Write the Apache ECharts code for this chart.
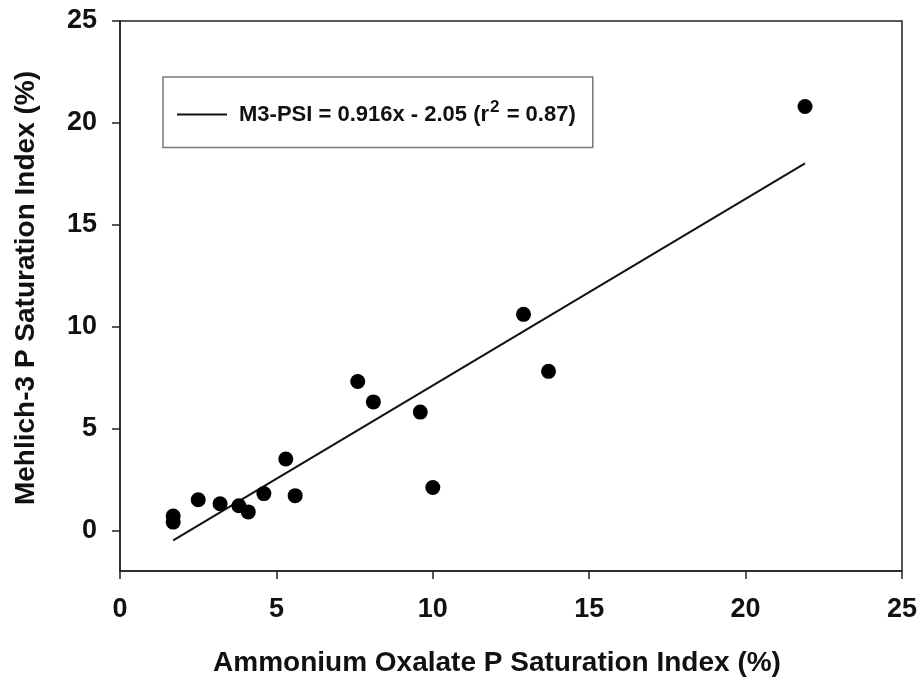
<!DOCTYPE html>
<html>
<head>
<meta charset="utf-8">
<script src="https://cdn.jsdelivr.net/npm/echarts@6/dist/echarts.min.js"></script>
<style>
html,body{margin:0;padding:0;background:#fff;}
#chart{width:921px;height:682px;}
</style>
</head>
<body>
<div id="chart"></div>
<script>
// Data
var oxalatePSI = [21.9, 12.9, 13.7, 7.6, 8.1, 9.6, 10.0, 5.3, 4.6, 5.6, 2.5, 3.2, 3.8, 4.1, 1.7, 1.7];
var mehlichPSI = [20.8, 10.6, 7.8, 7.3, 6.3, 5.8, 2.1, 3.5, 1.8, 1.7, 1.5, 1.3, 1.2, 0.9, 0.7, 0.4];
var fitSlope = 0.916;
var fitIntercept = -2.05;
var fitR2 = 0.87;
var xTicks = [0, 5, 10, 15, 20, 25];
var yTicks = [0, 5, 10, 15, 20, 25];
var xTitle = 'Ammonium Oxalate P Saturation Index (%)';
var yTitle = 'Mehlich-3 P Saturation Index (%)';
var fitName = 'M3-PSI = 0.916x - 2.05 (r2 = 0.87)';

var points = oxalatePSI.map(function (x, i) { return [x, mehlichPSI[i]]; });
var xMin = Math.min.apply(null, oxalatePSI);
var xMax = Math.max.apply(null, oxalatePSI);
var fitLine = [[xMin, fitSlope * xMin + fitIntercept], [xMax, fitSlope * xMax + fitIntercept]];

var FONT = 'Liberation Sans, Arial, sans-serif';
var chart = echarts.init(document.getElementById('chart'), null, {renderer: 'canvas'});
chart.setOption({
  animation: false,
  backgroundColor: '#ffffff',
  grid: {left: 120, right: 19, top: 21, bottom: 111, show: true, borderColor: '#222', borderWidth: 1.5, backgroundColor: 'transparent'},
  legend: {
    data: [{name: fitName, icon: 'rect'}],
    left: 163, top: 77,
    orient: 'horizontal',
    padding: [22, 17, 22, 14],
    borderColor: '#777', borderWidth: 1.5,
    itemWidth: 50, itemHeight: 2,
    formatter: function () {
      return 'M3-PSI = ' + fitSlope + 'x - ' + Math.abs(fitIntercept).toFixed(2) + ' (r{sup|2} = ' + fitR2 + ')';
    },
    textStyle: {
      fontFamily: FONT, fontWeight: 'bold', fontSize: 22, color: '#111',
      padding: [0, 0, 0, 7],
      rich: {
        sup: {fontFamily: FONT, fontWeight: 'bold', fontSize: 17, color: '#111', verticalAlign: 'bottom', padding: [0, 1, 14, 1]}
      }
    }
  },
  xAxis: {
    type: 'value', min: 0, max: 25, interval: 5,
    name: xTitle, nameLocation: 'middle', nameGap: 78,
    nameTextStyle: {fontFamily: FONT, fontWeight: 'bold', fontSize: 28, color: '#111', padding: [0, 28, 0, 0]},
    axisLine: {show: true, onZero: false, lineStyle: {color: '#222', width: 1.5}},
    axisTick: {show: true, length: 8, inside: false, lineStyle: {color: '#222', width: 1.5}, customValues: xTicks},
    axisLabel: {fontFamily: FONT, fontWeight: 'bold', fontSize: 27, color: '#111', margin: 25, customValues: xTicks},
    splitLine: {show: false}
  },
  yAxis: {
    type: 'value', min: -2, max: 25,
    name: yTitle, nameLocation: 'middle', nameGap: 80, nameRotate: 90,
    nameTextStyle: {fontFamily: FONT, fontWeight: 'bold', fontSize: 28, color: '#111', padding: [0, 0, 0, 16]},
    axisLine: {show: true, onZero: false, lineStyle: {color: '#222', width: 1.5}},
    axisTick: {show: true, length: 8, inside: false, lineStyle: {color: '#222', width: 1.5}, customValues: yTicks},
    axisLabel: {fontFamily: FONT, fontWeight: 'bold', fontSize: 27, color: '#111', margin: 23, customValues: yTicks},
    splitLine: {show: false}
  },
  series: [
    {
      name: fitName, type: 'line', data: fitLine,
      symbol: 'none', showSymbol: false,
      lineStyle: {color: '#111', width: 2},
      itemStyle: {color: '#111'},
      z: 2
    },
    {
      name: 'data', type: 'scatter', data: points,
      symbol: 'circle', symbolSize: 15,
      itemStyle: {color: '#000', opacity: 1},
      z: 3
    }
  ]
});
</script>
</body>
</html>
